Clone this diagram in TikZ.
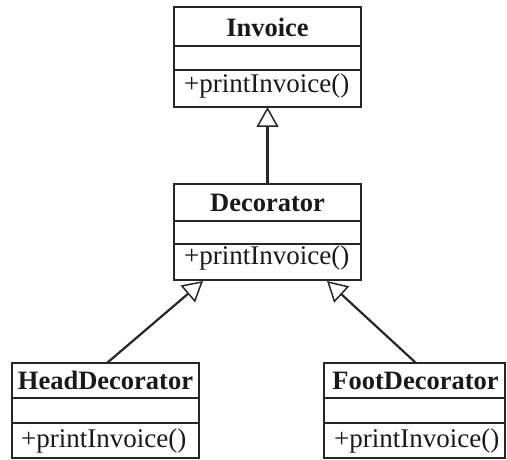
\documentclass[tikz,border=0pt]{standalone}
\usepackage{fontspec}
\setmainfont{Liberation Serif}
\usetikzlibrary{arrows.meta}
\begin{document}
\begin{tikzpicture}[x=1pt,y=-1pt,
  classbox/.style={draw=black!85, line width=1.4pt, inner sep=0pt, outer sep=0pt, anchor=north west},
  divider/.style={draw=black!85, line width=1.4pt},
  ctitle/.style={font=\fontsize{26.5}{30}\selectfont\bfseries, inner sep=0pt, text=black!90},
  cmeth/.style={font=\fontsize{27}{30}\selectfont, inner sep=0pt, anchor=base west, text=black!90},
  genarrow/.style={draw=black!85, line width=2.2pt, -{Triangle[open, length=20pt, width=22pt, line width=1.5pt]}}]
\useasboundingbox (0,0) rectangle (507,460);
% Invoice
\node[classbox, minimum width=187pt, minimum height=100pt] (inv) at (174,7) {};
\draw[divider] (174,46) -- (361,46);
\draw[divider] (174,70) -- (361,70);
\node[ctitle] (invt) at (267.5,27) {Invoice};
\node[cmeth] (invm) at (184,93) {+printInvoice()};
% Decorator
\node[classbox, minimum width=187pt, minimum height=96pt] (dec) at (174,184) {};
\draw[divider] (174,221) -- (361,221);
\draw[divider] (174,244) -- (361,244);
\node[ctitle] (dect) at (267.5,202.5) {Decorator};
\node[cmeth] (decm) at (184,265) {+printInvoice()};
% HeadDecorator
\node[classbox, minimum width=187pt, minimum height=95pt] (head) at (12,363) {};
\draw[divider] (12,398) -- (199,398);
\draw[divider] (12,423) -- (199,423);
\node[ctitle] (headt) at (105.5,380.5) {HeadDecorator};
\node[cmeth] (headm) at (21,447) {+printInvoice()};
% FootDecorator
\node[classbox, minimum width=181pt, minimum height=95pt] (foot) at (324,363) {};
\draw[divider] (324,398) -- (505,398);
\draw[divider] (324,423) -- (505,423);
\node[ctitle] (foott) at (415.5,380.5) {FootDecorator};
\node[cmeth] (footm) at (334,447) {+printInvoice()};
% connectors
\coordinate (decL) at (203,281);
\coordinate (decR) at (327,281);
\coordinate (headtop) at (107,363);
\coordinate (foottop) at (416,363);
\draw[genarrow] (dec.north) -- (inv.south);
\draw[genarrow] (headtop) -- (decL);
\draw[genarrow] (foottop) -- (decR);
\end{tikzpicture}
\end{document}
